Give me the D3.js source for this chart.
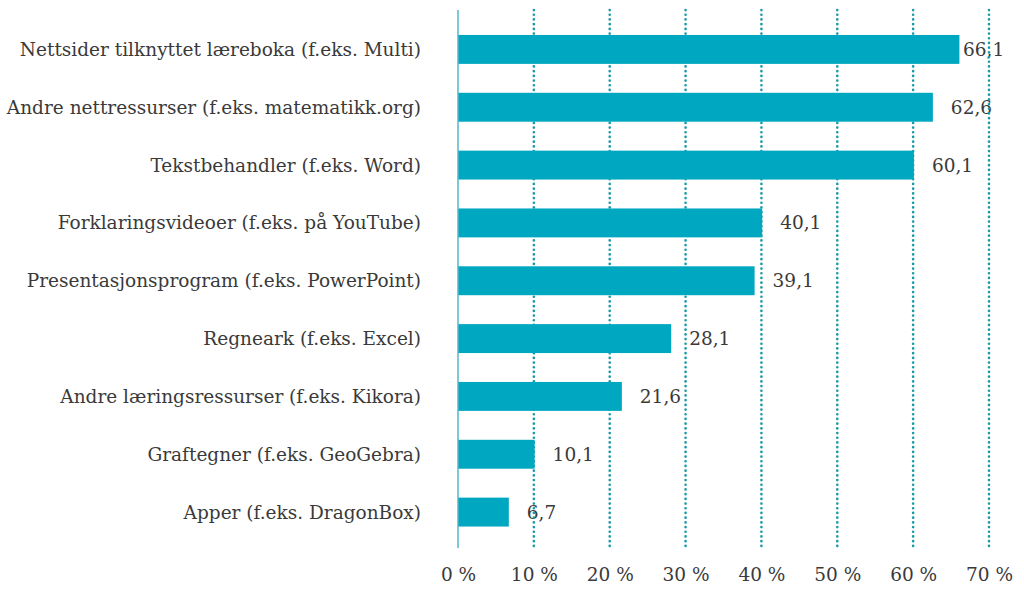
<!DOCTYPE html>
<html>
<head>
<meta charset="utf-8">
<script src="https://cdn.jsdelivr.net/npm/d3@7"></script>
<style>
  body { margin: 0; background: #fff; }
  text { font-family: "Roboto Slab", "DejaVu Serif", serif; fill: #3a3a3a; }
</style>
</head>
<body>
<div id="chart"></div>
<script>
var categories = [
  "Nettsider tilknyttet læreboka (f.eks. Multi)",
  "Andre nettressurser (f.eks. matematikk.org)",
  "Tekstbehandler (f.eks. Word)",
  "Forklaringsvideoer (f.eks. på YouTube)",
  "Presentasjonsprogram (f.eks. PowerPoint)",
  "Regneark (f.eks. Excel)",
  "Andre læringsressurser (f.eks. Kikora)",
  "Graftegner (f.eks. GeoGebra)",
  "Apper (f.eks. DragonBox)"
];
var values = [66.1, 62.6, 60.1, 40.1, 39.1, 28.1, 21.6, 10.1, 6.7];
var ticks = [0, 10, 20, 30, 40, 50, 60, 70];

var width = 1024, height = 598;
var svg = d3.select("#chart").append("svg")
  .attr("width", width)
  .attr("height", height);

var x = d3.scaleLinear().domain([0, 70]).range([458, 989]);
var y = d3.scaleBand().domain(categories).range([20.5, 541]).paddingInner(0.5).paddingOuter(0.25);

var fmt = function (v) { return String(v.toFixed(1)).replace(".", ","); };

// category labels
svg.append("g").selectAll("text")
  .data(categories)
  .enter().append("text")
  .attr("class", "cat")
  .attr("x", 421)
  .attr("y", function (d) { return y(d) + y.bandwidth() / 2; })
  .attr("dy", "0.35em")
  .attr("text-anchor", "end")
  .style("font-size", "18.5px")
  .text(function (d) { return d; });

// value labels (under the grid, like the original)
svg.append("g").selectAll("text")
  .data(values)
  .enter().append("text")
  .attr("x", function (d) { return Math.min(x(d) + 18, 963); })
  .attr("y", function (d, i) { return y(categories[i]) + y.bandwidth() / 2; })
  .attr("dy", "0.35em")
  .style("font-size", "18.5px")
  .text(fmt);

// dotted grid
svg.append("g").selectAll("line")
  .data(ticks.slice(1))
  .enter().append("line")
  .attr("x1", function (d) { return x(d); })
  .attr("x2", function (d) { return x(d); })
  .attr("y1", 10)
  .attr("y2", 548)
  .attr("stroke", "#1b9aa6")
  .attr("stroke-width", 2.6)
  .attr("stroke-dasharray", "0.1 4.6")
  .attr("stroke-linecap", "round");

// bars
svg.append("g").selectAll("rect")
  .data(values)
  .enter().append("rect")
  .attr("x", x(0))
  .attr("y", function (d, i) { return y(categories[i]); })
  .attr("width", function (d) { return x(d) - x(0); })
  .attr("height", y.bandwidth())
  .attr("fill", "#00a7c1");

// zero axis line
svg.append("line")
  .attr("x1", x(0)).attr("x2", x(0))
  .attr("y1", 10).attr("y2", 548)
  .attr("stroke", "#4fb9c9")
  .attr("stroke-width", 1.5);

// x axis tick labels
var xAxis = d3.axisBottom(x).tickValues(ticks).tickSize(0).tickPadding(0)
  .tickFormat(function (d) { return d + " %"; });
var gx = svg.append("g").attr("transform", "translate(0,568)").call(xAxis);
gx.select(".domain").remove();
gx.selectAll("text")
  .attr("fill", "#3a3a3a")
  .style("font-size", "18.5px")
  .style("font-family", "'Roboto Slab', 'DejaVu Serif', serif");
</script>
</body>
</html>
